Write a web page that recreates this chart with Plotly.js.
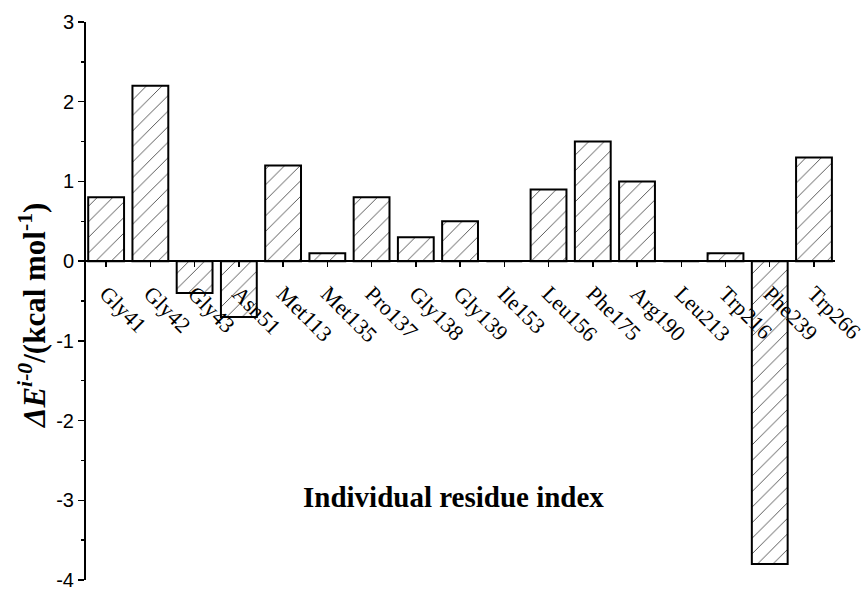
<!DOCTYPE html>
<html>
<head>
<meta charset="utf-8">
<script src="https://cdn.plot.ly/plotly-3.0.1.min.js"></script>
<style>
  html, body { margin: 0; padding: 0; background: #fff; }
  #chart { width: 866px; height: 589px; }
</style>
</head>
<body>
<div id="chart"></div>
<script>
// Per-residue interaction energy contributions (kcal/mol)
const residues = ["Gly41", "Gly42", "Gly43", "Asn51", "Met113", "Met135", "Pro137", "Gly138",
                  "Gly139", "Ile153", "Leu156", "Phe175", "Arg190", "Leu213", "Trp216", "Phe239", "Trp266"];
const energies = [0.8, 2.2, -0.4, -0.7, 1.2, 0.1, 0.8, 0.3,
                  0.5, 0.0, 0.9, 1.5, 1.0, 0.0, 0.1, -3.8, 1.3];
const yTicks = [-4, -3, -2, -1, 0, 1, 2, 3];
const yTickText = ["-4", "-3", "-2", "-1", "0", "1", "2", "3"];

const yMin = -4, yMax = 3;
const idx = residues.map((_, i) => i);

const trace = {
  type: "bar",
  x: idx,
  y: energies,
  width: 0.81,
  marker: {
    color: "#ffffff",
    line: { color: "#000000", width: 2 },
    pattern: { shape: "/", fgcolor: "#444444", bgcolor: "#ffffff", size: 11, solidity: 0.08 }
  },
  hoverinfo: "x+y"
};

const serif = "'Times New Roman', 'Liberation Serif', serif";
const sans = "Arial, 'Liberation Sans', sans-serif";

const W = 866, H = 589;
const M = { l: 86, r: 31, t: 22, b: 9 };
const plotW = W - M.l - M.r, plotH = H - M.t - M.b;
// pixel position -> paper fraction
const px = x => (x - M.l) / plotW;
const py = y => (H - M.b - y) / plotH;

const layout = {
  width: W,
  height: H,
  margin: M,
  paper_bgcolor: "#ffffff",
  plot_bgcolor: "#ffffff",
  showlegend: false,
  bargap: 0,
  xaxis: {
    range: [-0.455, 16.475],
    tickmode: "array",
    tickvals: idx,
    ticktext: residues,
    tickangle: 45,
    ticks: "outside",
    ticklen: 5,
    tickwidth: 1.5,
    tickcolor: "#000",
    showline: true,
    linecolor: "#000",
    linewidth: 2,
    showgrid: false,
    zeroline: false,
    anchor: "free",
    position: (0 - yMin) / (yMax - yMin),
    ticklabelstandoff: 5,
    ticklabeloverflow: "allow",
    tickfont: { family: serif, size: 22, color: "#000" }
  },
  yaxis: {
    range: [yMin, yMax],
    tickmode: "array",
    tickvals: yTicks,
    ticktext: yTickText,
    ticks: "outside",
    ticklen: 6,
    tickwidth: 1.5,
    tickcolor: "#000",
    minor: { dtick: 0.5, ticks: "outside", ticklen: 3, tickwidth: 1.5, tickcolor: "#000" },
    showline: true,
    linecolor: "#000",
    linewidth: 2,
    showgrid: false,
    zeroline: false,
    ticklabeloverflow: "allow",
    tickfont: { family: sans, size: 20, color: "#000" }
  },
  annotations: [
    {
      xref: "paper", yref: "paper",
      x: px(453), y: py(497),
      xanchor: "center", yanchor: "middle",
      showarrow: false,
      text: "<b>Individual residue index</b>",
      font: { family: serif, size: 29, color: "#000" }
    },
    {
      xref: "paper", yref: "paper",
      x: px(32), y: py(316),
      xanchor: "center", yanchor: "middle",
      textangle: -90,
      showarrow: false,
      text: "<b><i>ΔE</i><sup><i>i-0</i></sup>/(kcal mol<sup>-1</sup>)</b>",
      font: { family: serif, size: 31, color: "#000" }
    }
  ]
};

Plotly.newPlot("chart", [trace], layout, { displayModeBar: false, staticPlot: true });
</script>
</body>
</html>
